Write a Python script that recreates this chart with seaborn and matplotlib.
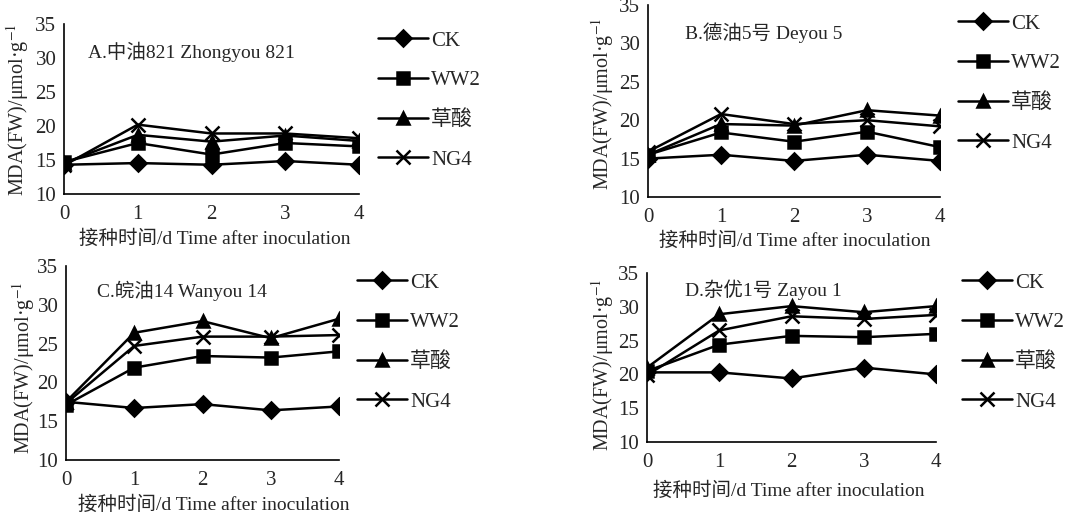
import numpy as np
import pandas as pd
import matplotlib
matplotlib.use("Agg")
import matplotlib.pyplot as plt
import seaborn as sns

days = [0, 1, 2, 3, 4]
treatments = ["CK", "WW2", "草酸", "NG4"]

A_ck = [14.3, 14.55, 14.3, 14.85, 14.3]
A_ww2 = [14.7, 17.5, 15.8, 17.5, 17.0]
A_oa = [14.55, 18.7, 17.7, 18.6, 17.8]
A_ng4 = [14.2, 20.2, 18.9, 18.9, 18.2]

B_ck = [15.0, 15.5, 14.7, 15.5, 14.7]
B_ww2 = [15.5, 18.4, 17.2, 18.5, 16.5]
B_oa = [15.5, 19.5, 19.3, 21.3, 20.6]
B_ng4 = [15.9, 20.8, 19.5, 20.0, 19.2]

C_ck = [17.5, 16.7, 17.2, 16.4, 16.9]
C_ww2 = [17.1, 21.9, 23.4, 23.2, 24.0]
C_oa = [17.5, 26.4, 27.9, 25.7, 28.2]
C_ng4 = [17.3, 24.7, 25.9, 25.9, 26.1]

D_ck = [20.3, 20.3, 19.4, 21.0, 20.0]
D_ww2 = [20.5, 24.4, 25.7, 25.5, 26.0]
D_oa = [21.0, 28.9, 30.1, 29.2, 30.1]
D_ng4 = [19.9, 26.5, 28.6, 28.2, 28.8]

titles = ["A.中油821 Zhongyou 821", "B.德油5号 Deyou 5",
          "C.皖油14 Wanyou 14", "D.杂优1号 Zayou 1"]
yticks = [10, 15, 20, 25, 30, 35]
xlabel = "接种时间/d Time after inoculation"
ylabel = "MDA(FW)/μmol·g$^{-1}$"

panels = [[A_ck, A_ww2, A_oa, A_ng4], [B_ck, B_ww2, B_oa, B_ng4],
          [C_ck, C_ww2, C_oa, C_ng4], [D_ck, D_ww2, D_oa, D_ng4]]

sns.set_style("white")
plt.rcParams["font.family"] = ["Liberation Serif", "Noto Sans CJK SC"]
plt.rcParams["mathtext.fontset"] = "stix"
plt.rcParams["xtick.direction"] = "in"
plt.rcParams["ytick.direction"] = "out"

W, H = 1090, 516
fig = plt.figure(figsize=(W / 100, H / 100), dpi=100)

# axes pixel boxes: left, top, right, bottom
boxes = [(64, 24, 359, 194), (648, 5, 940, 197), (66, 266, 339, 460), (647, 273, 936, 442)]
title_pos = [(88, 52), (685, 33), (97, 291), (685, 290)]
xlabel_pos = [(215, 239), (795, 241), (214, 505), (789, 491)]
ylabel_pos = [(18, 110), (603, 104), (24, 368), (603, 365)]
legend_pos = [(378, 31), (958, 14), (357, 273), (962, 273)]

markers = ["D", "s", "^", "x"]
msizes = [8, 8, 9, 10]
fs = 15

for i, series in enumerate(panels):
    l, t, r, b = boxes[i]
    ax = fig.add_axes([l / W, 1 - b / H, (r - l) / W, (b - t) / H])
    for name, vals, mk, ms in zip(treatments, series, markers, msizes):
        df = pd.DataFrame({"day": days, "val": vals})
        sns.lineplot(data=df, x="day", y="val", marker=mk, color="black", ax=ax,
                     markersize=ms, markeredgecolor="black", markeredgewidth=1.8,
                     linewidth=1.8, label=name)
    ax.set_xlim(0, 4)
    ax.set_ylim(10, 35)
    ax.set_xticks(days)
    ax.set_yticks(yticks)
    ax.tick_params(axis="both", labelsize=fs, length=4, width=1.2, pad=1.5)
    ax.tick_params(axis="x", pad=8)
    for s in ["top", "right"]:
        ax.spines[s].set_visible(False)
    for s in ["left", "bottom"]:
        ax.spines[s].set_linewidth(1.2)
        ax.spines[s].set_color("black")
    ax.set_xlabel("")
    ax.set_ylabel("")
    handles, labels = ax.get_legend_handles_labels()
    lx, ly = legend_pos[i]
    ax.legend(handles, labels, loc="upper left", bbox_to_anchor=(lx / W, 1 - ly / H),
              bbox_transform=fig.transFigure, frameon=False, fontsize=fs,
              handlelength=2.4, handletextpad=0.15, labelspacing=0.96,
              borderpad=0, borderaxespad=0)
    tx, ty = title_pos[i]
    fig.text(tx / W, 1 - ty / H, titles[i], fontsize=14, ha="left", va="center")
    xx, xy = xlabel_pos[i]
    fig.text(xx / W, 1 - xy / H, xlabel, fontsize=14, ha="center", va="center")
    yx, yy = ylabel_pos[i]
    fig.text(yx / W, 1 - yy / H, ylabel, fontsize=14.5, ha="center", va="center", rotation=90)

fig.savefig("out.png", dpi=100)
